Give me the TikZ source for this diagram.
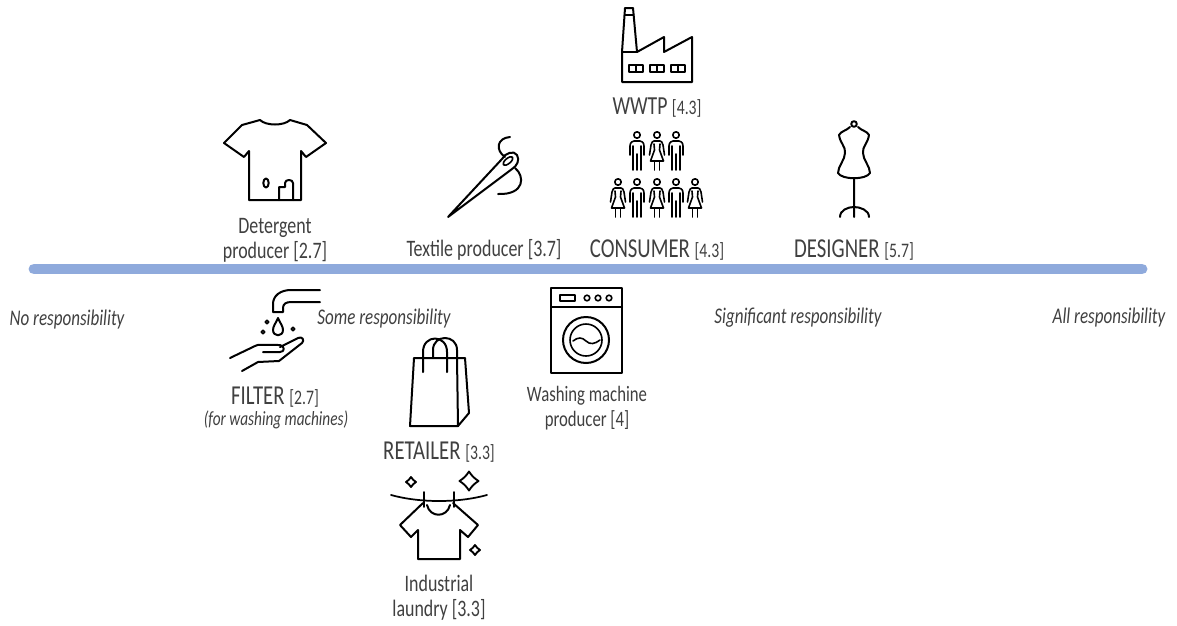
\documentclass[tikz,border=0pt]{standalone}
\usepackage{fontspec}
\setmainfont[FakeStretch=0.76]{Carlito}
\usetikzlibrary{positioning}
\definecolor{barblue}{HTML}{8FAADC}
\definecolor{labelgray}{HTML}{404040}
\newcommand{\bigname}{\fontsize{20.5}{22}\selectfont}
\newcommand{\score}[1]{{\fontsize{15.5}{19}\selectfont [#1]}}
\tikzset{
  icon/.style={draw=black,line width=1.5pt,line join=round,line cap=round},
  thin icon/.style={icon,line width=1.2pt},
  small/.style={text=labelgray,font=\fontsize{17.7}{18.75}\selectfont,align=center,inner sep=0pt},
  big/.style={text=labelgray,font=\bigname,align=center,inner sep=0pt},
  level/.style={text=labelgray,font=\fontsize{16.8}{18}\selectfont\itshape,inner sep=0pt},
  man/.pic={
    \draw[thin icon] (0,0) circle (3.2);
    \draw[thin icon] (-7,20) -- (-7,11) .. controls (-7,7) and (-4,6) .. (-3,6) -- (3,6) .. controls (4,6) and (7,7) .. (7,11) -- (7,20);
    \draw[thin icon] (-4,11) -- (-4,35) (4,11) -- (4,35) (0,19) -- (0,35);
  },
  woman/.pic={
    \draw[thin icon] (0,0) circle (3.2);
    \draw[thin icon] (-7.5,20) -- (-6,10) .. controls (-5.5,7) and (-4,6) .. (-3,6) -- (3,6) .. controls (4,6) and (5.5,7) .. (6,10) -- (7.5,20);
    \draw[thin icon] (-3,9) -- (-2.5,15) -- (-6.5,26) -- (6.5,26) -- (2.5,15) -- (3,9);
    \draw[thin icon] (-2.5,26) -- (-2.5,35) (2.5,26) -- (2.5,35);
  },
  sparkle/.pic={
    \draw[icon,line width=1.4pt] (0,-1) to[bend right=12] (1,0) to[bend right=12] (0,1) to[bend right=12] (-1,0) to[bend right=12] cycle;
  }
}
\begin{document}
\begin{tikzpicture}[x=.75pt,y=-.75pt]
  \useasboundingbox (0,0) rectangle (1177,625);

  \coordinate (barL) at (34,269);
  \coordinate (barR) at (1142,269);
  \draw[barblue,line width=8.2pt,line cap=round] (barL) -- (barR);

  \node[small] (detergent) at (275,240) {Detergent\\producer [2.7]};
  \node[small] (textile) at (484,250) {Textile producer [3.7]};
  \node[big,font=\fontsize{19.5}{22}\selectfont] (wwtp) at (657,108) {WWTP \score{4.3}};
  \node[big] (consumer) at (657,250) {CONSUMER \score{4.3}};
  \node[big] (designer) at (854,250) {DESIGNER \score{5.7}};
  \node[big] (filter) at (275,397) {FILTER \score{2.7}};
  \node[level,font=\fontsize{15.1}{16}\selectfont\itshape] (note) at (276,420) {(for washing machines)};
  \node[big] (retailer) at (439,452) {RETAILER \score{3.3}};
  \node[small,font=\fontsize{16.5}{18.75}\selectfont] (machine) at (587,408) {Washing machine\\producer [4]};
  \node[small] (laundry) at (439,597.5) {Industrial\\laundry [3.3]};

  \node[level] (none) at (67,320) {No responsibility};
  \node[level] (some) at (384,319) {Some responsibility};
  \node[level] (significant) at (798,318) {Significant responsibility};
  \node[level] (all) at (1109,318) {All responsibility};

  % t-shirt
  \draw[icon] (249,151) -- (244,157) -- (224,143) -- (242,125) -- (260,120) .. controls (266,126) and (284,126) .. (290,120) -- (307,125) -- (326,143) -- (306,157) -- (301,151) -- (301,200) -- (249,200) -- cycle;
  \draw[icon] (266,183) ellipse (2.7 and 4.5);
  \draw[icon] (279,200) -- (279,187) -- (285,187) -- (285,183) .. controls (285,179) and (293,179) .. (293,183) -- (293,200);

  % needle
  \draw[icon] (448,217) -- (502,159) .. controls (505,153) and (514,150) .. (517,155) .. controls (520,160) and (517,166) .. (512,169) -- cycle;
  \draw[icon,line width=1.2pt,rotate around={40:(508,161)}] (508,161) ellipse (6 and 2.6);
  \draw[icon] (510,137) .. controls (497,138) and (495,150) .. (505,157) (515,168) .. controls (525,176) and (525,195) .. (498,194);

  % factory
  \draw[icon] (625,8) -- (633,8) -- (637,52) -- (664,37) -- (664,52) -- (692,37) -- (692,82) -- (622,82) -- (622,52) -- cycle;
  \draw[icon] (622,52) -- (637,52) (624.5,15) -- (633.5,15);
  \foreach \wx in {629,650,671}
    \draw[icon,line width=1.3pt] (\wx,65) rectangle ++(14,7) (\wx+7,65) -- ++(0,7);

  % people
  \foreach \px/\ptype in {637/man,657/woman,676/man}
    \pic at (\px,135) {\ptype};
  \foreach \px/\ptype in {618/woman,637/man,657/woman,676/man,695/woman}
    \pic at (\px,182) {\ptype};

  % dress form
  \draw[icon] (854,124) circle (2.8);
  \draw[icon] (850,127) .. controls (846,131) and (841,131) .. (839,135) .. controls (840,143) and (846,147) .. (845,153) .. controls (845,160) and (838,166) .. (838,173) .. controls (842,180) and (866,180) .. (870,173) .. controls (870,166) and (863,160) .. (863,153) .. controls (862,147) and (868,143) .. (869,135) .. controls (867,131) and (862,131) .. (858,127);
  \draw[icon] (854,179) -- (854,217) (840,217) .. controls (840,210) and (848,207) .. (854,207) .. controls (860,207) and (869,210) .. (869,217);

  % tap and hand
  \draw[icon] (320,290) -- (291,290) .. controls (280,290) and (273,296) .. (273,304) -- (273,312) -- (283,312) -- (283,308) .. controls (283,304) and (286,302) .. (291,302) -- (320,302);
  \draw[icon] (278,318) .. controls (276,323) and (273,326) .. (273,330) .. controls (273,337) and (283,337) .. (283,330) .. controls (283,326) and (280,323) .. (278,318) -- cycle;
  \draw[icon,line width=1.2pt] (267,322) circle (1.8) (263,332) circle (1.8) (293,329) circle (1.8);
  \draw[icon] (230,358) -- (255,346) .. controls (258,344) and (262,345) .. (280,345) .. controls (285,346) and (285,352) .. (280,352) -- (263,352);
  \draw[icon] (280,347) -- (298,338) .. controls (302,336) and (305,340) .. (302,343) -- (279,361) -- (258,362) -- (242,371);

  % bag
  \draw[icon] (414,358) -- (465,358) -- (469,413) -- (458,426) -- (410,426) -- cycle;
  \draw[icon] (457,358) -- (458,426);
  \draw[icon] (423,372) -- (423,352) .. controls (423,334) and (447,334) .. (447,352) -- (447,372);
  \draw[icon] (433,358) -- (433,350) .. controls (433,334) and (457,334) .. (457,350) -- (457,358);

  % laundry
  \draw[icon,line width=1.3pt] (391,495) .. controls (420,503) and (458,503) .. (487,495);
  \draw[icon,line width=1.3pt] (424,492) -- (424,507) (454,492) -- (454,507);
  \draw[icon] (427,505) .. controls (430,518) and (447,518) .. (450,505);
  \draw[icon] (423,503) -- (400,525) -- (411,537) -- (418,530) -- (418,559) -- (460,559) -- (460,530) -- (468,537) -- (478,525) -- (453,503);
  \pic[scale=5] at (411,482) {sparkle};
  \pic[scale=9.5] at (469,481) {sparkle};
  \pic[scale=5] at (475,550) {sparkle};

  % washing machine
  \draw[icon] (551,288) rectangle (622,373) (551,307) -- (622,307);
  \draw[icon,line width=1.2pt] (560,295) rectangle (575,301);
  \foreach \kx in {587,598,609}
    \draw[icon,line width=1.2pt] (\kx,298) circle (2.8);
  \draw[icon] (586,340) circle (23);
  \draw[icon,line width=1.2pt] (586,340) circle (16);
  \draw[icon,line width=1.2pt] (573,341) .. controls (578,337) and (582,337) .. (586,341) .. controls (590,345) and (595,344) .. (600,340);
\end{tikzpicture}
\end{document}
